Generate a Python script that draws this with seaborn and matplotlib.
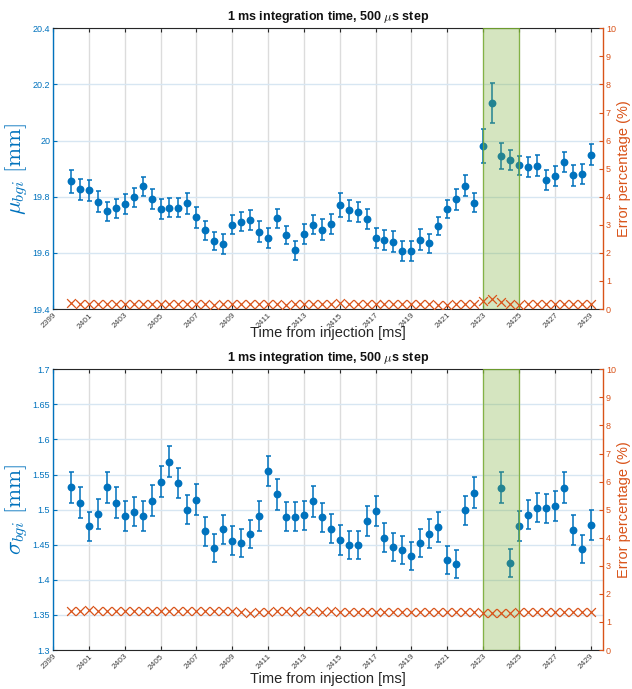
import numpy as np
import pandas as pd
import matplotlib
matplotlib.use("Agg")
import matplotlib.pyplot as plt
import seaborn as sns
from matplotlib.ticker import FuncFormatter

# ---------------- data ----------------
time_ms = [2400.0, 2400.5, 2401.0, 2401.5, 2402.0, 2402.5, 2403.0, 2403.5, 2404.0, 2404.5,
           2405.0, 2405.5, 2406.0, 2406.5, 2407.0, 2407.5, 2408.0, 2408.5, 2409.0, 2409.5,
           2410.0, 2410.5, 2411.0, 2411.5, 2412.0, 2412.5, 2413.0, 2413.5, 2414.0, 2414.5,
           2415.0, 2415.5, 2416.0, 2416.5, 2417.0, 2417.5, 2418.0, 2418.5, 2419.0, 2419.5,
           2420.0, 2420.5, 2421.0, 2421.5, 2422.0, 2422.5, 2423.0, 2423.5, 2424.0, 2424.5,
           2425.0, 2425.5, 2426.0, 2426.5, 2427.0, 2427.5, 2428.0, 2428.5, 2429.0]

mu_bgi = [19.855, 19.827, 19.823, 19.783, 19.748, 19.759, 19.773, 19.798, 19.837, 19.792,
          19.757, 19.761, 19.761, 19.776, 19.727, 19.681, 19.641, 19.631, 19.701, 19.711,
          19.716, 19.675, 19.654, 19.723, 19.665, 19.610, 19.668, 19.701, 19.683, 19.704,
          19.770, 19.752, 19.746, 19.721, 19.653, 19.646, 19.640, 19.607, 19.607, 19.647,
          19.635, 19.697, 19.758, 19.791, 19.840, 19.779, 19.982, 20.135, 19.944, 19.931,
          19.912, 19.907, 19.911, 19.861, 19.873, 19.924, 19.876, 19.881, 19.950]

mu_err = [0.040, 0.037, 0.038, 0.036, 0.034, 0.034, 0.036, 0.034, 0.035, 0.036,
          0.035, 0.034, 0.034, 0.036, 0.037, 0.034, 0.032, 0.036, 0.035, 0.034,
          0.036, 0.037, 0.035, 0.034, 0.032, 0.034, 0.036, 0.034, 0.036, 0.036,
          0.043, 0.038, 0.037, 0.037, 0.034, 0.035, 0.037, 0.035, 0.035, 0.037,
          0.034, 0.032, 0.032, 0.037, 0.038, 0.034, 0.061, 0.071, 0.046, 0.034,
          0.033, 0.036, 0.037, 0.036, 0.036, 0.036, 0.036, 0.037, 0.037]

mu_err_pct = [0.20, 0.19, 0.19, 0.18, 0.17, 0.17, 0.18, 0.17, 0.18, 0.18,
              0.18, 0.17, 0.17, 0.18, 0.19, 0.17, 0.16, 0.18, 0.18, 0.17,
              0.18, 0.19, 0.18, 0.17, 0.16, 0.17, 0.18, 0.17, 0.18, 0.18,
              0.22, 0.19, 0.19, 0.19, 0.17, 0.18, 0.19, 0.18, 0.18, 0.19,
              0.17, 0.16, 0.16, 0.19, 0.19, 0.17, 0.30, 0.36, 0.24, 0.17,
              0.16, 0.18, 0.18, 0.18, 0.18, 0.18, 0.18, 0.18, 0.18]

sigma_bgi = [1.532, 1.510, 1.476, 1.494, 1.532, 1.510, 1.491, 1.497, 1.491, 1.513,
             1.540, 1.568, 1.538, 1.500, 1.514, 1.469, 1.446, 1.472, 1.456, 1.453,
             1.465, 1.491, 1.555, 1.522, 1.490, 1.490, 1.492, 1.512, 1.489, 1.473,
             1.457, 1.449, 1.449, 1.484, 1.498, 1.460, 1.447, 1.443, 1.434, 1.453,
             1.466, 1.475, 1.428, 1.423, 1.499, 1.524, np.nan, np.nan, 1.531, 1.424,
             1.477, 1.493, 1.503, 1.502, 1.505, 1.531, 1.471, 1.444, 1.478]

sigma_err = [0.022, 0.022, 0.021, 0.021, 0.022, 0.022, 0.021, 0.021, 0.021, 0.022,
             0.022, 0.022, 0.022, 0.021, 0.022, 0.021, 0.020, 0.021, 0.021, 0.020,
             0.020, 0.021, 0.022, 0.022, 0.021, 0.021, 0.021, 0.022, 0.021, 0.021,
             0.021, 0.020, 0.020, 0.021, 0.021, 0.021, 0.020, 0.020, 0.020, 0.020,
             0.021, 0.021, 0.020, 0.020, 0.021, 0.022, 0.021, 0.021, 0.022, 0.020,
             0.021, 0.021, 0.021, 0.021, 0.021, 0.022, 0.021, 0.020, 0.021]

sigma_err_pct = [1.40, 1.40, 1.41, 1.40, 1.40, 1.40, 1.39, 1.40, 1.40, 1.39,
                 1.40, 1.39, 1.40, 1.40, 1.39, 1.39, 1.38, 1.39, 1.38, 1.34,
                 1.33, 1.34, 1.35, 1.38, 1.38, 1.37, 1.38, 1.38, 1.37, 1.38,
                 1.37, 1.36, 1.35, 1.36, 1.37, 1.36, 1.36, 1.35, 1.35, 1.36,
                 1.36, 1.37, 1.36, 1.36, 1.37, 1.36, 1.32, 1.31, 1.33, 1.32,
                 1.34, 1.35, 1.35, 1.35, 1.35, 1.36, 1.35, 1.35, 1.35]

x_ticks = [2399, 2401, 2403, 2405, 2407, 2409, 2411, 2413, 2415, 2417,
           2419, 2421, 2423, 2425, 2427, 2429]
mu_ticks = [19.4, 19.6, 19.8, 20.0, 20.2, 20.4]
sigma_ticks = [1.3, 1.35, 1.4, 1.45, 1.5, 1.55, 1.6, 1.65, 1.7]
pct_ticks = [0, 1, 2, 3, 4, 5, 6, 7, 8, 9, 10]
highlight_window = [2423, 2425]

title_text = r"1 ms integration time, 500 $\mu$s step"
xlabel_text = "Time from injection [ms]"
mu_label = r"$\mu_{bgi}\ [\mathrm{mm}]$"
sigma_label = r"$\sigma_{bgi}\ [\mathrm{mm}]$"
pct_label = "Error percentage (%)"

# ---------------- style ----------------
sns.set_theme(style="white")
plt.rcParams["font.family"] = ["Liberation Sans", "DejaVu Sans"]
plt.rcParams["mathtext.fontset"] = "cm"

BLUE = "#0072BD"
ORANGE = "#D95319"
GREEN = (0.466, 0.674, 0.188)
DARK = "#262626"
fmt_g = FuncFormatter(lambda v, p: f"{v:g}")

fig = plt.figure(figsize=(6.32, 6.89), dpi=100)
ax_top = fig.add_axes([0.0839, 0.5515, 0.8703, 0.4074])
ax_bot = fig.add_axes([0.0839, 0.0566, 0.8703, 0.4074])


def draw_panel(ax, values, errs, pcts, yticks, ylabel, xlabelpad):
    df = pd.DataFrame({"t": time_ms, "v": values, "e": errs, "p": pcts})
    ax.set_axisbelow(True)
    ax.errorbar(df["t"], df["v"], yerr=df["e"], fmt="none", ecolor=BLUE,
                elinewidth=1.1, capsize=1.8, capthick=1.1, zorder=3)
    sns.scatterplot(data=df, x="t", y="v", ax=ax, color=BLUE, s=32,
                    linewidth=0, zorder=4, legend=False)
    ax.axvspan(highlight_window[0], highlight_window[1],
               facecolor=GREEN + (0.3,), edgecolor=GREEN + (0.85,),
               linewidth=0.9, zorder=5)
    ax.set_ylim(yticks[0], yticks[-1])
    ax.set_yticks(yticks)
    ax.yaxis.set_major_formatter(fmt_g)
    ax.set_xticks(x_ticks)
    ax.set_xlim(2399, 2429.7)
    ax.grid(axis="x", color="#dcdcdc", linewidth=1.0)
    ax.grid(axis="y", color="#d7e6f2", linewidth=1.0)
    ax.tick_params(axis="x", direction="in", length=3, top=True, bottom=True,
                   labelsize=6, labelcolor="#404040", color=DARK, width=0.8, pad=2)
    ax.tick_params(axis="y", direction="in", length=3, colors=BLUE,
                   labelsize=6.5, width=0.8, pad=2)
    plt.setp(ax.get_xticklabels(), rotation=45, ha="right", va="top",
             rotation_mode="anchor")
    for s in ["top", "bottom"]:
        ax.spines[s].set_color(DARK)
        ax.spines[s].set_linewidth(0.8)
    ax.spines["left"].set_color(BLUE)
    ax.spines["left"].set_linewidth(1.0)
    ax.spines["right"].set_visible(False)
    ax.set_title(title_text, fontsize=9, fontweight="bold", pad=6, color="#111111")
    ax.set_xlabel(xlabel_text, fontsize=10.5, color=DARK, labelpad=xlabelpad)
    ax.set_ylabel(ylabel, fontsize=16.5, color=BLUE, labelpad=1)

    ax2 = ax.twinx()
    sns.scatterplot(data=df, x="t", y="p", ax=ax2, marker="x", color=ORANGE,
                    s=40, linewidth=0.9, zorder=6, legend=False)
    ax2.set_ylim(pct_ticks[0], pct_ticks[-1])
    ax2.set_yticks(pct_ticks)
    ax2.yaxis.set_major_formatter(fmt_g)
    ax2.tick_params(axis="y", direction="in", length=3, colors=ORANGE,
                    labelsize=6.5, width=0.8, pad=2)
    ax2.set_ylabel(pct_label, fontsize=10.5, color=ORANGE, labelpad=1)
    for s in ["top", "bottom", "left"]:
        ax2.spines[s].set_visible(False)
    ax2.spines["right"].set_color(ORANGE)
    ax2.spines["right"].set_linewidth(1.0)
    ax.set_xlim(2399, 2429.7)


draw_panel(ax_top, mu_bgi, mu_err, mu_err_pct, mu_ticks, mu_label, -3)
draw_panel(ax_bot, sigma_bgi, sigma_err, sigma_err_pct, sigma_ticks, sigma_label, 1)

fig.savefig("out.png", dpi=100)
